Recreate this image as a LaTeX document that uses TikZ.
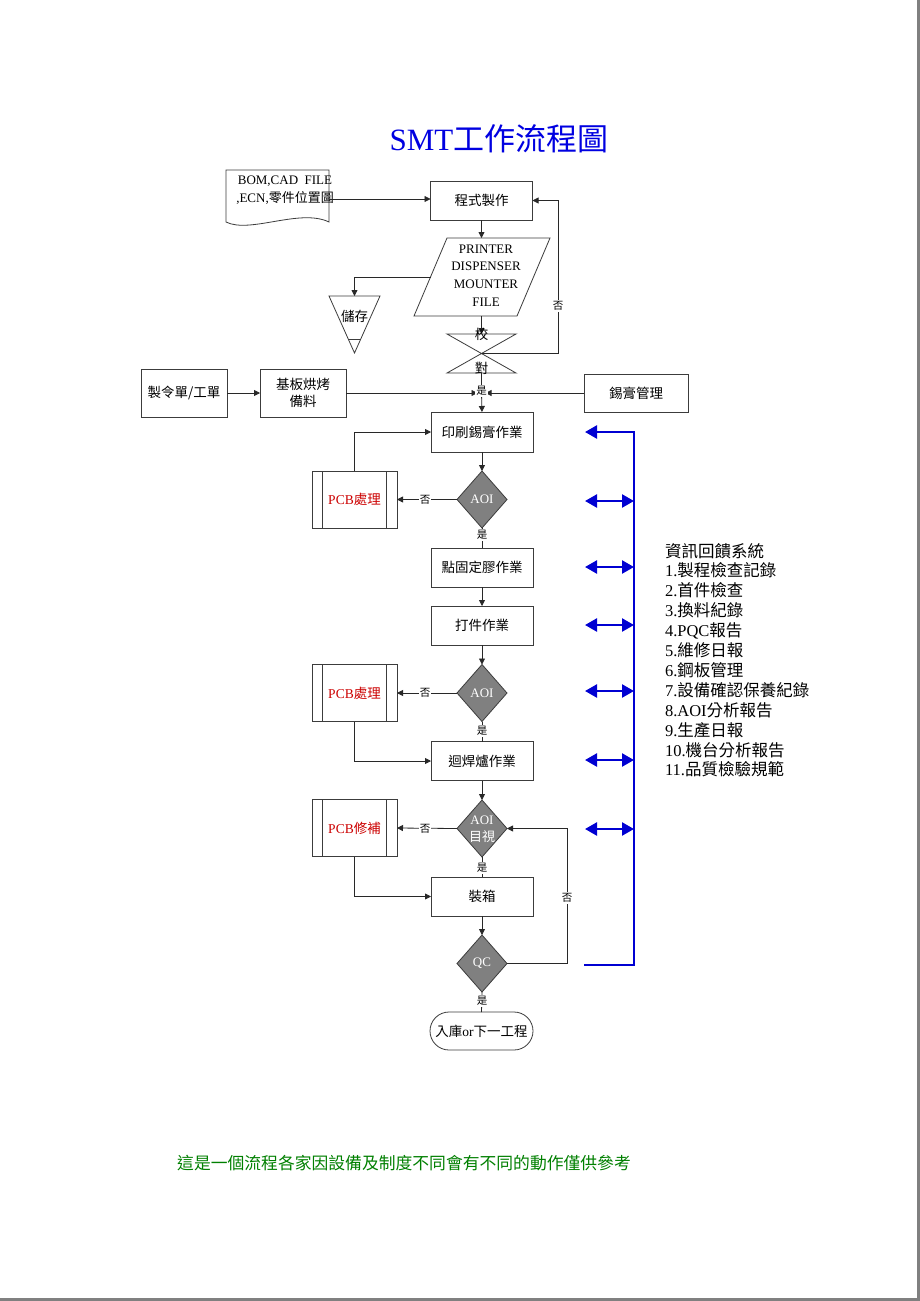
\documentclass[tikz,border=0pt]{standalone}
\usepackage{fontspec}
\setmainfont{Liberation Serif}
\newfontfamily\zhfont{Noto Sans CJK TC}
\newcommand{\zh}[1]{{\zhfont #1}}
\usetikzlibrary{arrows.meta,shapes.geometric,calc}
\definecolor{boxC}{RGB}{60,60,60}
\definecolor{lineC}{RGB}{40,40,40}
\definecolor{dgray}{RGB}{128,128,128}
\definecolor{pcbred}{RGB}{204,0,0}
\definecolor{fbblue}{RGB}{0,0,210}
\definecolor{titleblue}{RGB}{0,0,225}
\definecolor{notegreen}{RGB}{0,128,0}
\definecolor{pagegray}{RGB}{128,128,128}
\begin{document}
\begin{tikzpicture}[x=1pt,y=-1pt,
  line width=0.8pt,
  every node/.style={inner sep=0pt, outer sep=0pt},
  boxst/.style={draw=boxC, fill=white, minimum width=102pt, minimum height=39pt, font=\fontsize{13.5}{17}\selectfont\zhfont, align=center},
  pcbst/.style={draw=boxC, fill=white, minimum width=85pt, minimum height=57pt, text=pcbred, font=\fontsize{13.5}{16}\selectfont},
  dia/.style={diamond, draw=boxC, fill=dgray, minimum width=50pt, minimum height=57pt},
  diatext/.style={text=white, font=\fontsize{13}{15}\selectfont, align=center},
  conn/.style={draw=lineC, line width=0.8pt},
  arr/.style={conn, -{Triangle[length=6pt,width=6pt]}},
  lbl/.style={fill=white, font=\fontsize{10.5}{11}\selectfont\zhfont, inner sep=1pt},
  fb/.style={draw=fbblue, line width=2.4pt},
  fbarr/.style={fb, {Triangle[length=12pt,width=13pt]}-{Triangle[length=12pt,width=13pt]}},
]
\useasboundingbox (0,0) rectangle (920,1301);
\fill[white] (0,0) rectangle (920,1301);
\fill[pagegray] (917,0) rectangle (920,1301);
\fill[pagegray] (0,1298) rectangle (920,1301);

% title
\node[text=titleblue, font=\fontsize{31}{34}\selectfont] (title) at (499,139) {SMT\zh{工作流程圖}};

% document shape
\draw[draw=boxC, fill=white] (226,170) -- (329,170) -- (329,222) .. controls (300,208) and (250,234) .. (226,222) -- cycle;
\node[font=\fontsize{13}{18}\selectfont, align=center] (doc) at (285,190) {BOM,CAD\ \ FILE\\,ECN,\zh{零件位置圖}};
\coordinate (docR) at (329,199);

% program box
\node[boxst] (prog) at (481.5,200.5) {程式製作};

% parallelogram
\draw[draw=boxC, fill=white] (447,238) -- (550,238) -- (517,316) -- (414,316) -- cycle;
\node[font=\fontsize{13}{17.6}\selectfont, align=center] (para) at (486,275.5) {PRINTER\\DISPENSER\\MOUNTER\\FILE};
\coordinate (paraT) at (481.5,238);
\coordinate (paraL) at (430.5,277);
\coordinate (paraB) at (481.5,316);

% storage triangle
\draw[draw=boxC, fill=white] (329,296) -- (380,296) -- (354.5,353) -- cycle;
\draw[draw=boxC] (348.2,339) -- (360.8,339);
\node[font=\fontsize{13.5}{16}\selectfont\zhfont] (store) at (354.5,316) {儲存};
\coordinate (triT) at (354.5,296);

% collate bowtie
\draw[draw=boxC] (447,334) -- (516,373) -- (447,373) -- (516,334) -- cycle;
\coordinate (xT) at (481.5,334);
\coordinate (xC) at (481.5,353.5);
\coordinate (xB) at (481.5,373);
\coordinate (loopR) at (558,353.5);

% middle row
\node[boxst, minimum width=86pt, minimum height=48pt] (orders) at (184,393) {製令單/工單};
\node[boxst, minimum width=86pt, minimum height=48pt] (kiban) at (303,393) {基板烘烤\\備料};
\node[boxst, minimum width=104pt, minimum height=38pt] (solder) at (636,393) {錫膏管理};
\coordinate (junc) at (481.5,393);

% main flow
\node[boxst, minimum height=40pt] (print) at (482,432) {印刷錫膏作業};
\node[dia] (aoi1) at (482,499.5) {};
\node[diatext] (aoi1t) at (aoi1) {AOI};
\node[pcbst] (pcb1) at (354.5,499.5) {PCB\zh{處理}};

\node[boxst] (disp) at (482,567.5) {點固定膠作業};
\node[boxst] (place) at (482,625.5) {打件作業};
\node[dia] (aoi2) at (482,693) {};
\node[diatext] (aoi2t) at (aoi2) {AOI};
\node[pcbst] (pcb2) at (354.5,693) {PCB\zh{處理}};

\node[boxst] (reflow) at (482,761) {迴焊爐作業};
\node[dia] (aoi3) at (482,828.5) {};
\node[diatext, font=\fontsize{13}{16.5}\selectfont] (aoi3t) at (482,829) {AOI\\\zh{目視}};
\node[pcbst] (pcb3) at (354.5,828) {PCB\zh{修補}};

\node[boxst] (pack) at (482,896.5) {裝箱};
\node[dia] (qc) at (482,963.5) {};
\node[diatext] (qct) at (qc) {QC};
\node[boxst, rounded corners=19pt, minimum width=103pt, minimum height=38pt] (term) at (481.5,1031) {入庫\textrm{or}下一工程};

% predefined-process inner lines
\foreach \p in {pcb1,pcb2,pcb3}{
  \draw[draw=boxC] ([xshift=10pt]\p.north west) -- ([xshift=10pt]\p.south west);
  \draw[draw=boxC] ([xshift=-11pt]\p.north east) -- ([xshift=-11pt]\p.south east);
}

% connectors
\draw[arr] (docR) -- (docR -| prog.west);
\draw[arr] (prog.south) -- (paraT);
\draw[arr] (paraL) -| (triT);
\draw[arr] (paraB) -- (xT);
\draw[arr] (xC) -- (loopR) |- (prog.east);
\draw[conn] (xB) -- (junc);
\draw[arr] (orders.east) -- (kiban.west);
\draw[arr] (kiban.east) -- ([xshift=-4pt]junc);
\draw[arr] (solder.west) -- ([xshift=4pt]junc);
\draw[arr] (junc) -- (print.north);

\draw[arr] (print.south) -- (aoi1.north);
\draw[arr] (aoi1.west) -- (pcb1.east);
\draw[arr] (pcb1.north) |- (print.west);
\draw[conn] (aoi1.south) -- (disp.north);
\draw[arr] (disp.south) -- (place.north);
\draw[arr] (place.south) -- (aoi2.north);
\draw[arr] (aoi2.west) -- (pcb2.east);
\draw[arr] (pcb2.south) |- (reflow.west);
\draw[conn] (aoi2.south) -- (reflow.north);
\draw[arr] (reflow.south) -- (aoi3.north);
\draw[arr] (aoi3.west) -- (pcb3.east);
\draw[arr] (pcb3.south) |- (pack.west);
\draw[conn] (aoi3.south) -- (pack.north);
\draw[arr] (pack.south) -- (qc.north);
\coordinate (qcR) at (567,963.5);
\draw[arr] (qc.east) -- (qcR) |- (aoi3.east);
\draw[conn] (qc.south) -- (term.north);

% labels on connectors
\node[font=\fontsize{13.5}{16}\selectfont\zhfont] (lx1) at (481.5,334) {校};
\node[font=\fontsize{13.5}{16}\selectfont\zhfont] (lx2) at (481.5,368) {對};
\node[lbl] (n0) at (558,306) {否};
\node[lbl] (y0) at (481.5,391) {是};
\node[lbl] (n1) at (425,499.5) {否};
\node[lbl] (y1) at (482,535) {是};
\node[lbl] (n2) at (425,693) {否};
\node[lbl] (y2) at (482,731) {是};
\node[lbl] (n3) at (425,828.5) {否};
\node[lbl] (y3) at (482,868) {是};
\node[lbl] (n4) at (567,898) {否};
\node[lbl] (y4) at (482,1001) {是};

% feedback bracket
\coordinate (bT) at (634,432);
\coordinate (bB) at (634,965);
\coordinate (bTL) at (585,432);
\coordinate (bBL) at (584,965);
\draw[fb, line join=miter, {Triangle[length=12pt,width=13pt]}-] (bTL) -- (bT) -- (bB) -- (bBL);
\foreach \i/\yy in {1/501,2/567,3/625,4/691,5/760,6/829}{
  \coordinate (fbL\i) at (585,\yy);
  \coordinate (fbR\i) at (634,\yy);
  \draw[fbarr] (fbL\i) -- (fbR\i);
}

% info list
\node[anchor=north west, align=left, font=\fontsize{16.5}{19.9}\selectfont] (info) at (665,543) {%
\zh{資訊回饋系統}\\
1.\zh{製程檢查記錄}\\
2.\zh{首件檢查}\\
3.\zh{換料紀錄}\\
4.PQC\zh{報告}\\
5.\zh{維修日報}\\
6.\zh{鋼板管理}\\
7.\zh{設備確認保養紀錄}\\
8.AOI\zh{分析報告}\\
9.\zh{生產日報}\\
10.\zh{機台分析報告}\\
11.\zh{品質檢驗規範}};

% note
\node[text=notegreen, font=\fontsize{16.8}{18}\selectfont\zhfont] (note) at (404,1163) {這是一個流程各家因設備及制度不同會有不同的動作僅供參考};
\end{tikzpicture}
\end{document}
